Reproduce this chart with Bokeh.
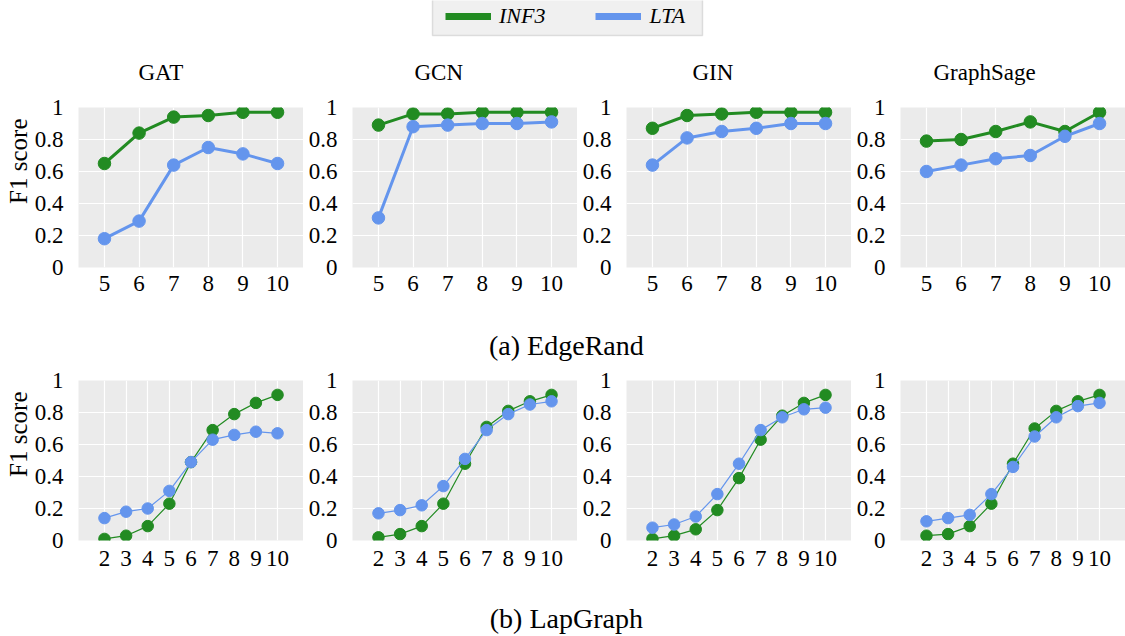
from bokeh.plotting import figure
from bokeh.layouts import column, row
from bokeh.models import (Range1d, FixedTicker, Title, Legend, LegendItem,
                          BoxAnnotation, Label)
from bokeh.embed import file_html
from bokeh.resources import INLINE

# ---------------- data ----------------
models = ["GAT", "GCN", "GIN", "GraphSage"]
series_names = ["INF3", "LTA"]

edgerand_x = [5, 6, 7, 8, 9, 10]
edgerand_gat_inf3 = [0.65, 0.84, 0.94, 0.95, 0.97, 0.97]
edgerand_gat_lta = [0.18, 0.29, 0.64, 0.75, 0.71, 0.65]
edgerand_gcn_inf3 = [0.89, 0.96, 0.96, 0.97, 0.97, 0.97]
edgerand_gcn_lta = [0.31, 0.88, 0.89, 0.90, 0.90, 0.91]
edgerand_gin_inf3 = [0.87, 0.95, 0.96, 0.97, 0.97, 0.97]
edgerand_gin_lta = [0.64, 0.81, 0.85, 0.87, 0.90, 0.90]
edgerand_sage_inf3 = [0.79, 0.80, 0.85, 0.91, 0.85, 0.97]
edgerand_sage_lta = [0.60, 0.64, 0.68, 0.70, 0.82, 0.90]

lapgraph_x = [2, 3, 4, 5, 6, 7, 8, 9, 10]
lapgraph_gat_inf3 = [0.01, 0.03, 0.09, 0.23, 0.49, 0.69, 0.79, 0.86, 0.91]
lapgraph_gat_lta = [0.14, 0.18, 0.20, 0.31, 0.49, 0.63, 0.66, 0.68, 0.67]
lapgraph_gcn_inf3 = [0.02, 0.04, 0.09, 0.23, 0.48, 0.71, 0.81, 0.87, 0.91]
lapgraph_gcn_lta = [0.17, 0.19, 0.22, 0.34, 0.51, 0.69, 0.79, 0.85, 0.87]
lapgraph_gin_inf3 = [0.01, 0.03, 0.07, 0.19, 0.39, 0.63, 0.78, 0.86, 0.91]
lapgraph_gin_lta = [0.08, 0.10, 0.15, 0.29, 0.48, 0.69, 0.77, 0.82, 0.83]
lapgraph_sage_inf3 = [0.03, 0.04, 0.09, 0.23, 0.48, 0.70, 0.81, 0.87, 0.91]
lapgraph_sage_lta = [0.12, 0.14, 0.16, 0.29, 0.46, 0.65, 0.77, 0.84, 0.86]

y_ticks = [0, 0.2, 0.4, 0.6, 0.8, 1]
y_tick_labels = ["0", "0.2", "0.4", "0.6", "0.8", "1"]

caption_a = "(a) EdgeRand"
caption_b = "(b) LapGraph"
y_label = "F1 score"

# ---------------- style ----------------
GREEN = "#228B22"
BLUE = "#6495ED"
FONT = "Liberation Serif"
FRAME_W = 225
LEFT0 = 78
LEFT = 49
W0 = LEFT0 + FRAME_W
W = LEFT + FRAME_W
TOTAL_W = W0 + 3 * W          # 1125
title_offsets = {"GAT": 60, "GCN": 62, "GIN": 66, "GraphSage": 33}
NAN = float("nan")


def make_subplot(name, xs, inf3, lta, x_start, x_end, first, top_border,
                 line_w, marker_size, show_title, x_standoff):
    p = figure(width=W0 if first else W, height=top_border + 160 + 38,
               x_range=Range1d(x_start, x_end), y_range=Range1d(0, 1),
               output_backend="svg", toolbar_location=None,
               min_border_left=LEFT0 if first else LEFT, min_border_right=0,
               min_border_top=top_border, min_border_bottom=38)
    p.background_fill_color = "#EBEBEB"
    p.border_fill_color = "white"
    p.outline_line_color = None
    xt = FixedTicker(ticks=xs)
    yt = FixedTicker(ticks=y_ticks)
    p.xaxis.ticker = xt
    p.yaxis.ticker = yt
    p.xgrid.ticker = xt
    p.ygrid.ticker = yt
    p.grid.grid_line_color = "white"
    p.grid.grid_line_width = 1.2
    p.yaxis.major_label_overrides = dict(zip(y_ticks, y_tick_labels))
    for ax in p.axis:
        ax.axis_line_color = None
        ax.major_tick_line_color = None
        ax.minor_tick_line_color = None
        ax.major_label_text_font = FONT
        ax.major_label_text_font_size = "23px"
        ax.major_label_text_color = "black"
    p.xaxis.major_label_standoff = x_standoff
    p.yaxis.major_label_standoff = 9

    p.line(xs, inf3, color=GREEN, line_width=line_w)
    p.scatter(xs, inf3, size=marker_size, color=GREEN)
    p.line(xs, lta, color=BLUE, line_width=line_w)
    p.scatter(xs, lta, size=marker_size, color=BLUE)

    if show_title:
        p.add_layout(Title(text=name, align="left", offset=title_offsets[name],
                           vertical_align="top", standoff=41,
                           text_font=FONT, text_font_size="23px",
                           text_font_style="normal", text_color="black"),
                     "above")
    if first:
        p.add_layout(Title(text=y_label, align="right", offset=11,
                           standoff=0, text_font=FONT,
                           text_font_size="25px", text_font_style="normal",
                           text_color="black"), "left")
    return p


# ---------------- legend strip ----------------
LEG_H = 37
leg = figure(width=TOTAL_W, height=LEG_H, x_range=Range1d(0, TOTAL_W),
             y_range=Range1d(0, LEG_H), output_backend="svg",
             toolbar_location=None, min_border=0)
leg.axis.visible = False
leg.grid.visible = False
leg.outline_line_color = None
leg.background_fill_color = "white"
leg.border_fill_color = "white"
leg.add_layout(BoxAnnotation(left=432, right=702, bottom=2, top=50,
                             fill_color="#F0F0F0", fill_alpha=1,
                             line_color="#A0A0A0", line_width=1.5))
# legend-only renderers (no visible data)
r_inf = leg.line([NAN, NAN], [NAN, NAN], line_color=GREEN, line_width=7)
r_lta = leg.line([NAN, NAN], [NAN, NAN], line_color=BLUE, line_width=7)
legend = Legend(items=[LegendItem(label=series_names[0], renderers=[r_inf]),
                       LegendItem(label=series_names[1], renderers=[r_lta])],
                orientation="horizontal", location=(445, 8),
                padding=0, margin=0, spacing=50, label_standoff=8,
                glyph_width=46, glyph_height=20, label_height=20,
                background_fill_alpha=0, border_line_alpha=0,
                label_text_font=FONT, label_text_font_style="italic",
                label_text_font_size="22px", label_text_color="black")
leg.add_layout(legend)

# ---------------- rows ----------------
edge_series = [(edgerand_gat_inf3, edgerand_gat_lta),
               (edgerand_gcn_inf3, edgerand_gcn_lta),
               (edgerand_gin_inf3, edgerand_gin_lta),
               (edgerand_sage_inf3, edgerand_sage_lta)]
lap_series = [(lapgraph_gat_inf3, lapgraph_gat_lta),
              (lapgraph_gcn_inf3, lapgraph_gcn_lta),
              (lapgraph_gin_inf3, lapgraph_gin_lta),
              (lapgraph_sage_inf3, lapgraph_sage_lta)]

row1 = [make_subplot(m, edgerand_x, s[0], s[1], 4.25, 10.75, i == 0, 70,
                     3, 12.5, True, 2)
        for i, (m, s) in enumerate(zip(models, edge_series))]
row2 = [make_subplot(m, lapgraph_x, s[0], s[1], 0.8, 11.2, i == 0, 14,
                     1.2, 11.5, False, 4)
        for i, (m, s) in enumerate(zip(models, lap_series))]


def caption(text, h, y):
    c = figure(width=TOTAL_W, height=h, x_range=Range1d(0, 1),
               y_range=Range1d(0, h), output_backend="svg",
               toolbar_location=None, min_border=0)
    c.axis.visible = False
    c.grid.visible = False
    c.outline_line_color = None
    c.background_fill_color = "white"
    c.border_fill_color = "white"
    c.add_layout(Label(x=0.503, y=y, text=text, text_align="center",
                       text_baseline="middle", text_font=FONT,
                       text_font_size="28px", text_color="black"))
    return c


cap_a = caption(caption_a, 61, 21)
cap_b = caption(caption_b, 58, 18)

layout = column(leg, row(*row1, spacing=0), cap_a, row(*row2, spacing=0),
                cap_b, spacing=0)

open("out.html", "w").write(file_html(layout, INLINE))
